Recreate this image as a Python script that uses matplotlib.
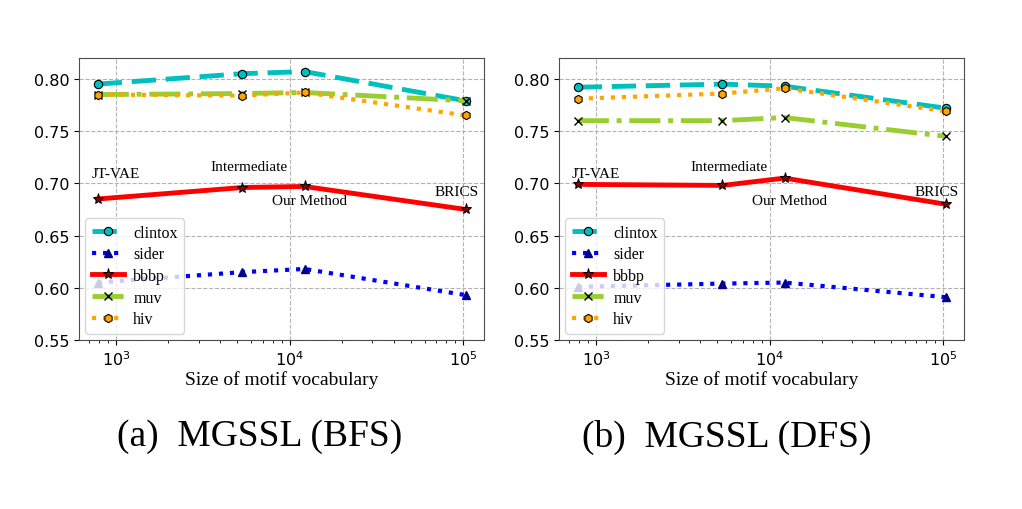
import numpy as np
import matplotlib.pyplot as plt

# motif vocabulary sizes for JT-VAE, Intermediate, Our Method, BRICS
vocab = [785, 5350, 12200, 103500]
point_names = ['JT-VAE', 'Intermediate', 'Our Method', 'BRICS']

# (a) MGSSL (BFS)
bfs_clintox = [0.795, 0.805, 0.807, 0.779]
bfs_sider = [0.605, 0.615, 0.618, 0.593]
bfs_bbbp = [0.685, 0.696, 0.697, 0.675]
bfs_muv = [0.785, 0.786, 0.787, 0.779]
bfs_hiv = [0.785, 0.784, 0.787, 0.765]

# (b) MGSSL (DFS)
dfs_clintox = [0.792, 0.795, 0.793, 0.772]
dfs_sider = [0.601, 0.604, 0.605, 0.591]
dfs_bbbp = [0.699, 0.698, 0.705, 0.680]
dfs_muv = [0.760, 0.760, 0.763, 0.745]
dfs_hiv = [0.781, 0.786, 0.791, 0.769]

# label anchor positions (data coords)
label_x = [1000, 5800, 13000, 92000]
label_y = [0.709, 0.716, 0.684, 0.692]

serif = ['Liberation Serif', 'DejaVu Serif']


def draw_panel(ax, clintox, sider, bbbp, muv, hiv):
    ax.plot(vocab, clintox, '--', color='c', lw=3.5, marker='o', ms=6,
            mfc='c', mec='k', mew=0.8, dashes=(5, 2), label='clintox')
    ax.plot(vocab, sider, ':', color='b', lw=3, marker='^', ms=6,
            mfc='darkblue', mec='darkblue', label='sider')
    ax.plot(vocab, bbbp, '-', color='red', lw=3.5, marker='*', ms=8,
            mfc='darkred', mec='k', mew=0.7, label='bbbp')
    ax.plot(vocab, muv, '-.', color='yellowgreen', lw=3.5, marker='x', ms=6,
            mec='k', mew=1, label='muv')
    ax.plot(vocab, hiv, ':', color='orange', lw=3, marker='h', ms=6,
            mfc='orange', mec='k', mew=0.8, label='hiv')

    for name, x, y in zip(point_names, label_x, label_y):
        ax.text(x, y, name, ha='center', va='center', fontsize=11, family=serif)

    ax.set_xscale('log')
    ax.set_xlim(612, 132000)
    ax.set_ylim(0.55, 0.82)
    ax.set_yticks([0.55, 0.60, 0.65, 0.70, 0.75, 0.80])
    ax.grid(True, which='major', ls='--', color='0.7', lw=0.8)
    ax.tick_params(labelsize=11.5)
    for s in ax.spines.values():
        s.set_color('0.3')
    ax.set_xlabel('Size of motif vocabulary', fontsize=14, family=serif, labelpad=1)
    leg = ax.legend(loc='lower left', prop={'family': serif, 'size': 11.5},
                    handlelength=2.0, handletextpad=0.6, labelspacing=0.35,
                    borderaxespad=0.4)
    leg.set_zorder(10)


fig = plt.figure(figsize=(10.22, 5.10), dpi=100)
ax1 = fig.add_axes([79 / 1022, 1 - 341 / 510, 405 / 1022, 282 / 510])
ax2 = fig.add_axes([559 / 1022, 1 - 341 / 510, 405 / 1022, 282 / 510])

draw_panel(ax1, bfs_clintox, bfs_sider, bfs_bbbp, bfs_muv, bfs_hiv)
draw_panel(ax2, dfs_clintox, dfs_sider, dfs_bbbp, dfs_muv, dfs_hiv)

fig.text(260 / 1022, 1 - 437 / 510, '(a)  MGSSL (BFS)', ha='center', va='center',
         fontsize=27, family=serif)
fig.text(727 / 1022, 1 - 437 / 510, '(b)  MGSSL (DFS)', ha='center', va='center',
         fontsize=27, family=serif)

fig.savefig('out.png', dpi=100)
